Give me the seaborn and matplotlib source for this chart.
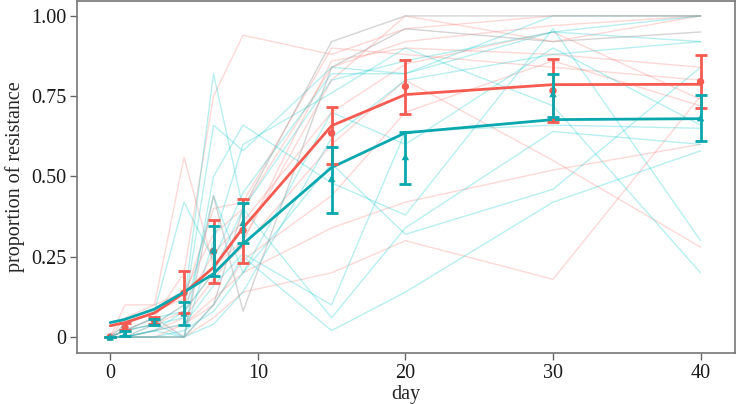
import numpy as np
import pandas as pd
import matplotlib
matplotlib.use("Agg")
import matplotlib.pyplot as plt
import seaborn as sns

# sampling days
days = [0, 1, 3, 5, 7, 9, 15, 20, 30, 40]

# individual replicate trajectories (approximate)
red_reps = [
    [0, 0.10, 0.10, 0.56, 0.22, 0.30, 0.86, 0.90, 0.88, 0.84],
    [0, 0.02, 0.06, 0.20, 0.75, 0.94, 0.88, 0.96, 1.00, 1.00],
    [0, 0.00, 0.02, 0.06, 0.18, 0.30, 0.80, 1.00, 0.92, 1.00],
    [0, 0.04, 0.08, 0.12, 0.40, 0.42, 0.90, 0.88, 0.84, 0.80],
    [0, 0.00, 0.04, 0.10, 0.26, 0.36, 0.70, 0.85, 0.95, 0.74],
    [0, 0.00, 0.00, 0.04, 0.12, 0.20, 0.34, 0.42, 0.52, 0.60],
    [0, 0.00, 0.00, 0.00, 0.06, 0.14, 0.20, 0.30, 0.18, 0.75],
    [0, 0.02, 0.04, 0.08, 0.20, 0.28, 0.60, 0.80, 0.55, 0.28],
    [0, 0.06, 0.10, 0.14, 0.32, 0.40, 0.84, 0.92, 0.97, 1.00],
    [0, 0.00, 0.02, 0.04, 0.10, 0.24, 0.44, 0.70, 0.86, 0.72],
]
teal_reps = [
    [0, 0.02, 0.04, 0.10, 0.82, 0.40, 0.80, 0.86, 0.95, 0.92],
    [0, 0.00, 0.02, 0.08, 0.66, 0.58, 0.84, 0.82, 0.95, 1.00],
    [0, 0.00, 0.04, 0.00, 0.50, 0.66, 0.48, 0.38, 0.96, 0.30],
    [0, 0.00, 0.02, 0.00, 0.30, 0.60, 0.76, 0.90, 0.72, 0.20],
    [0, 0.02, 0.06, 0.08, 0.20, 0.40, 0.06, 0.34, 0.64, 0.60],
    [0, 0.00, 0.00, 0.00, 0.10, 0.25, 0.02, 0.14, 0.42, 0.58],
    [0, 0.00, 0.02, 0.04, 0.16, 0.26, 0.10, 0.64, 0.66, 0.65],
    [0, 0.04, 0.08, 0.42, 0.24, 0.45, 0.82, 0.82, 1.00, 1.00],
    [0, 0.00, 0.00, 0.02, 0.08, 0.20, 0.54, 0.32, 0.46, 0.84],
    [0, 0.00, 0.00, 0.00, 0.04, 0.14, 0.62, 0.80, 0.88, 0.92],
    [0, 0.02, 0.04, 0.06, 0.44, 0.20, 0.70, 0.60, 0.90, 0.66],
]
gray_reps = [
    [0, 0.00, 0.00, 0.00, 0.10, 0.40, 0.92, 1.00, 1.00, 1.00],
    [0, 0.02, 0.06, 0.00, 0.44, 0.08, 0.84, 0.96, 0.92, 0.95],
]

# group means with error bar limits
red_mean = [0, 0.030, 0.050, 0.137, 0.267, 0.332, 0.635, 0.780, 0.767, 0.795]
red_low = [0, 0.022, 0.040, 0.075, 0.168, 0.230, 0.540, 0.693, 0.671, 0.714]
red_high = [0, 0.043, 0.062, 0.205, 0.363, 0.430, 0.717, 0.863, 0.866, 0.879]
teal_mean = [0, 0.010, 0.045, 0.075, 0.272, 0.357, 0.494, 0.562, 0.758, 0.683]
teal_low = [0, 0.003, 0.037, 0.037, 0.190, 0.292, 0.385, 0.475, 0.686, 0.609]
teal_high = [0, 0.018, 0.056, 0.110, 0.345, 0.416, 0.593, 0.640, 0.820, 0.755]

# fitted curves
red_fit = [0.035, 0.045, 0.075, 0.137, 0.217, 0.340, 0.658, 0.755, 0.786, 0.787]
teal_fit = [0.045, 0.055, 0.087, 0.140, 0.197, 0.290, 0.528, 0.636, 0.677, 0.680]

RED = "#F65A50"
TEAL = "#0AA8AE"

rows = []
for name, reps in [("red", red_reps), ("teal", teal_reps), ("gray", gray_reps)]:
    for i, r in enumerate(reps):
        for d, v in zip(days, r):
            rows.append({"group": name, "rep": f"{name}{i}", "day": d, "prop": v})
reps_df = pd.DataFrame(rows)

sns.set_style("white")
plt.rcParams["font.family"] = "serif"
plt.rcParams["font.serif"] = ["Liberation Serif", "DejaVu Serif"]

fig = plt.figure(figsize=(7.36, 4.04), dpi=100)
ax = fig.add_axes([0.105, 0.126, 0.893, 0.872])

sns.lineplot(data=reps_df[reps_df.group != "gray"], x="day", y="prop", hue="group",
             units="rep", estimator=None, palette={"red": "#F8766D", "teal": "#00C5CC"},
             alpha=0.28, lw=1, legend=False, ax=ax)
sns.lineplot(data=reps_df[reps_df.group == "gray"], x="day", y="prop", units="rep",
             estimator=None, color="#aaaaaa", alpha=0.5, lw=1, legend=False, ax=ax)

sns.lineplot(x=days, y=red_fit, color=RED, lw=2, ax=ax)
sns.lineplot(x=days, y=teal_fit, color=TEAL, lw=2, ax=ax)

for mean, low, high, col, mk in [(red_mean, red_low, red_high, RED, "o"),
                                 (teal_mean, teal_low, teal_high, TEAL, "^")]:
    mean = np.array(mean)
    yerr = [mean - np.array(low), np.array(high) - mean]
    ax.errorbar(days, mean, yerr=yerr, fmt="none", ecolor=col, elinewidth=2,
                capsize=4, capthick=2)
    sns.scatterplot(x=days, y=mean, color=col, marker=mk, s=28, edgecolor="none", ax=ax)

ax.set_xlim(-2.23, 42.3)
ax.set_ylim(-0.05, 1.047)
ax.set_xticks([0, 10, 20, 30, 40])
ax.set_yticks([0, 0.25, 0.5, 0.75, 1.0])
ax.set_yticklabels(["0", "0.25", "0.50", "0.75", "1.00"])
ax.set_xlabel("day", fontsize=14.5, labelpad=1)
ax.set_ylabel("proportion of resistance", fontsize=14.5, labelpad=4)
ax.tick_params(axis="both", labelsize=14.5, direction="out", length=5, width=1,
               color="#666666", labelcolor="#1a1a1a", left=True, bottom=True, pad=3)
for sp in ax.spines.values():
    sp.set_color("#777777")
    sp.set_linewidth(1.2)

fig.savefig("out.png", dpi=100)
